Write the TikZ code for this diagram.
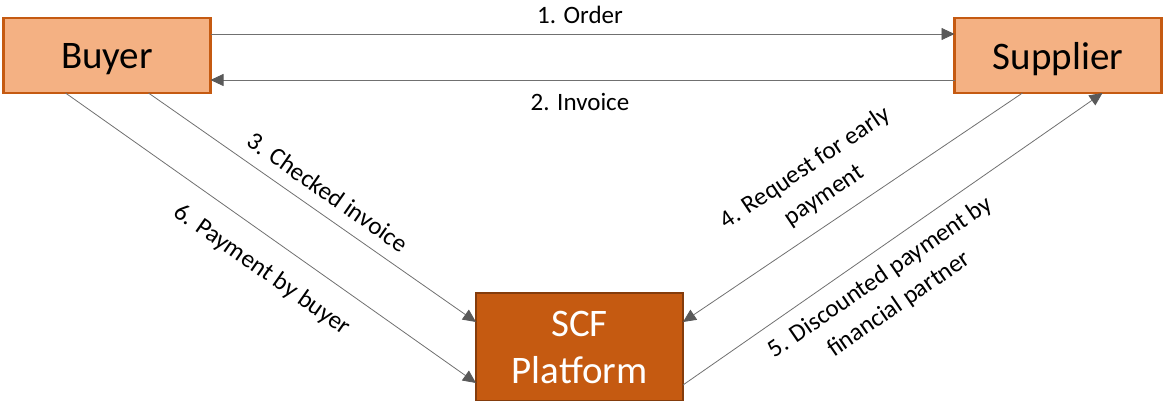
\documentclass[tikz,border=0pt]{standalone}
\usepackage{fontspec}
\setmainfont{Carlito}
\usetikzlibrary{arrows.meta}
\definecolor{lightorange}{HTML}{F4B183}
\definecolor{darkorange}{HTML}{C55A11}
\definecolor{brownedge}{HTML}{843C0C}
\definecolor{linegray}{HTML}{707070}
\definecolor{tipgray}{HTML}{595959}
\tikzset{
  party/.style={rectangle, draw=darkorange, fill=lightorange, line width=2.5pt,
    outer sep=0pt, minimum width=207pt, minimum height=75pt, text depth=0pt,
    font=\fontsize{39}{46}\selectfont, text=black},
  platform/.style={rectangle, draw=brownedge, fill=darkorange, line width=2pt,
    outer sep=0pt, minimum width=207pt, minimum height=108pt, text depth=0pt,
    font=\fontsize{39}{47}\selectfont, text=white, align=center},
  flow/.style={draw=linegray, line width=0.8pt,
    -{Triangle[length=13pt,width=12pt,color=tipgray]}},
  lbl/.style={font=\fontsize{25}{33}\selectfont, text=black, align=center, inner sep=0pt}
}
\begin{document}
\begin{tikzpicture}[x=1pt,y=-1pt]
  \useasboundingbox (0,0) rectangle (1163,401);

  % parties
  \node[party] (buyer) at (107,55.5) {Buyer};
  \node[party] (supplier) at (1058,55.5) {Supplier};
  \node[platform] (scf) at (579.5,347) {SCF\\Platform};

  % order and invoice between buyer and supplier
  \draw[flow] ([yshift=-16pt]buyer.north east) -- ([yshift=-16pt]supplier.north west);
  \draw[flow] ([yshift=13pt]supplier.south west) -- ([yshift=13pt]buyer.south east);
  \node[lbl] (l1) at (580,15) {1. Order};
  \node[lbl] (l2) at (580,102) {2. Invoice};

  % buyer to platform
  \draw[flow] ([xshift=145pt]buyer.south west) -- ([yshift=-29pt]scf.north west);
  \draw[flow] ([xshift=62pt]buyer.south west) -- ([yshift=-90pt]scf.north west);
  \node[lbl, rotate=-35] (l3) at (328,192) {3. Checked invoice};
  \node[lbl, rotate=-35] (l6) at (262,270) {6. Payment by buyer};

  % supplier and platform
  \draw[flow] ([xshift=68pt]supplier.south west) -- ([yshift=-29pt]scf.north east);
  \draw[flow] ([yshift=-92pt]scf.north east) -- ([xshift=148pt]supplier.south west);
  \node[lbl, rotate=34] (l4) at (815,182) {4. Request for early\\payment};
  \node[lbl, rotate=34.5] (l5) at (890,291) {5. Discounted payment by\\financial partner};
\end{tikzpicture}
\end{document}
